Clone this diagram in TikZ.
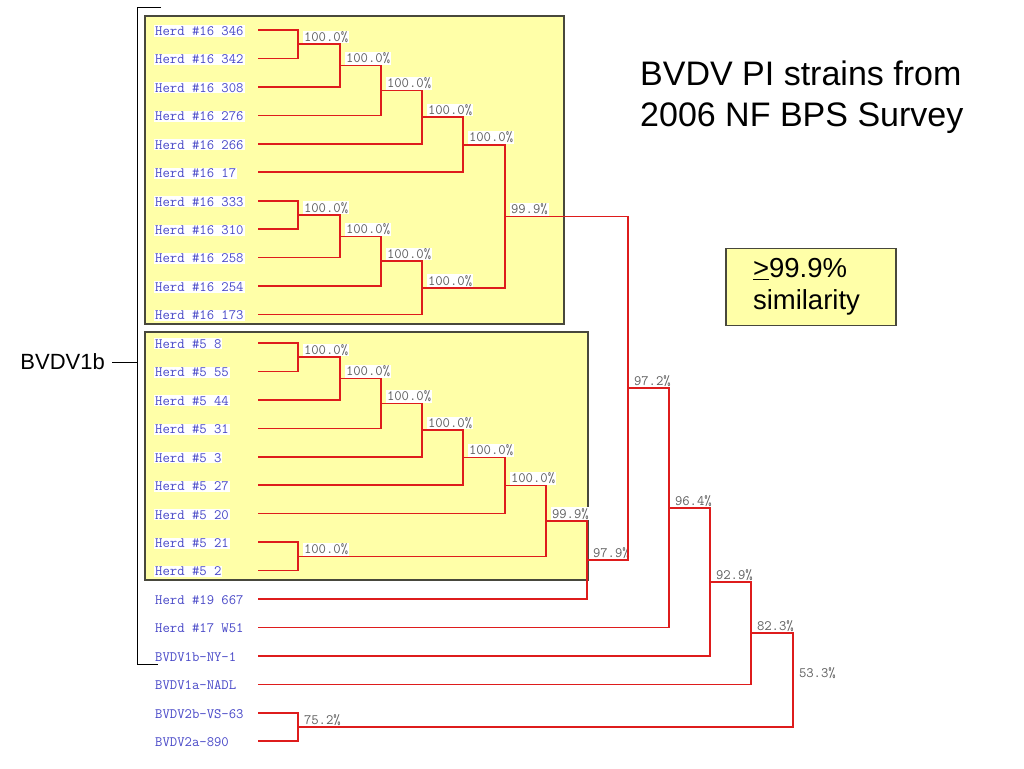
\documentclass[tikz,border=0pt]{standalone}
\usepackage{fontspec}
\setmainfont{Liberation Sans}
\usepackage{tikz}

\definecolor{linkred}{RGB}{222,28,28}
\definecolor{leafblue}{RGB}{72,72,200}
\definecolor{pctgrey}{RGB}{95,95,95}
\definecolor{boxyellow}{RGB}{255,255,168}
\definecolor{boxedge}{RGB}{72,72,60}

\begin{document}
\begin{tikzpicture}[x=1pt, y=-1pt,
    leaf/.style={anchor=west, fill=white, inner sep=1pt, text=leafblue,
        font=\fontsize{14.3}{16}\selectfont\ttfamily},
    pct/.style={anchor=south west, fill=white, inner sep=0.8pt, xshift=5pt, yshift=0.6pt,
        text=pctgrey, font=\fontsize{14.3}{16}\selectfont\ttfamily},
    link/.style={draw=linkred, line width=1.6pt},
    herdbox/.style={fill=boxyellow, draw=boxedge, line width=1.2pt},
    brk/.style={draw=black, line width=1pt}]
    \useasboundingbox (0,0) rectangle (1024,768);

    % shaded herd groups
    \draw[herdbox] (145,16) rectangle (564,324);
    \draw[herdbox] (145,332) rectangle (588,580);

    % BVDV1b bracket
    \draw[brk] (161,8) -- (137,8) -- (137,664) -- (158,664);
    \node[anchor=east, inner xsep=7pt, font=\fontsize{22}{26}\selectfont] (bvdv) at (112,362) {BVDV1b};
    \coordinate (brkmid) at (137,362);
    \draw[brk] (bvdv) -- (brkmid);

    % leaves
    \foreach \t [count=\i from 0] in {Herd \#16 346, Herd \#16 342, Herd \#16 308, Herd \#16 276,
        Herd \#16 266, Herd \#16 17, Herd \#16 333, Herd \#16 310, Herd \#16 258, Herd \#16 254,
        Herd \#16 173, Herd \#5 8, Herd \#5 55, Herd \#5 44, Herd \#5 31, Herd \#5 3, Herd \#5 27,
        Herd \#5 20, Herd \#5 21, Herd \#5 2, Herd \#19 667, Herd \#17 W51, BVDV1b-NY-1,
        BVDV1a-NADL, BVDV2b-VS-63, BVDV2a-890}{
        \node[leaf] (l\i) at (154, 31+28.45*\i) {\t};
        \coordinate (s\i) at (258, 30+28.45*\i);
    }

    % joins
    \coordinate (a1) at (298,44.2);
    \coordinate (a2) at (340,65.6);
    \coordinate (a3) at (381,90.5);
    \coordinate (a4) at (422,117.1);
    \coordinate (a5) at (463,144.7);
    \coordinate (b1) at (298,214.9);
    \coordinate (b2) at (340,236.3);
    \coordinate (b3) at (381,261.2);
    \coordinate (b4) at (422,287.8);
    \coordinate (c16) at (505,216.3);
    \coordinate (d1) at (298,357.2);
    \coordinate (d2) at (340,378.5);
    \coordinate (d3) at (381,403.4);
    \coordinate (d4) at (422,430.1);
    \coordinate (d5) at (463,457.6);
    \coordinate (d6) at (505,485.6);
    \coordinate (e1) at (298,556.3);
    \coordinate (c5) at (546,521.0);
    \coordinate (f1) at (587,560.0);
    \coordinate (f2) at (628,388.1);
    \coordinate (f3) at (669,507.8);
    \coordinate (f4) at (710,581.8);
    \coordinate (f5) at (751,633.1);
    \coordinate (g1) at (298,727.0);
    \coordinate (root) at (793,680.1);

    % similarity labels
    \foreach \j in {a1,a2,a3,a4,a5,b1,b2,b3,b4,d1,d2,d3,d4,d5,d6,e1}{
        \node[pct] (p\j) at (\j) {100.0\%};
    }
    \node[pct] (pc16) at (c16) {99.9\%};
    \node[pct] (pc5) at (c5) {99.9\%};
    \node[pct] (pf1) at (f1) {97.9\%};
    \node[pct] (pf2) at (f2) {97.2\%};
    \node[pct] (pf3) at (f3) {96.4\%};
    \node[pct] (pf4) at (f4) {92.9\%};
    \node[pct] (pf5) at (f5) {82.3\%};
    \node[pct] (pg1) at (g1) {75.2\%};
    \node[pct] (proot) at (root) {53.3\%};

    % tree
    \draw[link] (s0) -| (a1) |- (s1);
    \draw[link] (a1) -| (a2) |- (s2);
    \draw[link] (a2) -| (a3) |- (s3);
    \draw[link] (a3) -| (a4) |- (s4);
    \draw[link] (a4) -| (a5) |- (s5);
    \draw[link] (s6) -| (b1) |- (s7);
    \draw[link] (b1) -| (b2) |- (s8);
    \draw[link] (b2) -| (b3) |- (s9);
    \draw[link] (b3) -| (b4) |- (s10);
    \draw[link] (a5) -| (c16) |- (b4);
    \draw[link] (s11) -| (d1) |- (s12);
    \draw[link] (d1) -| (d2) |- (s13);
    \draw[link] (d2) -| (d3) |- (s14);
    \draw[link] (d3) -| (d4) |- (s15);
    \draw[link] (d4) -| (d5) |- (s16);
    \draw[link] (d5) -| (d6) |- (s17);
    \draw[link] (s18) -| (e1) |- (s19);
    \draw[link] (d6) -| (c5) |- (e1);
    \draw[link] (c5) -| (f1) |- (s20);
    \draw[link] (c16) -| (f2) |- (f1);
    \draw[link] (f2) -| (f3) |- (s21);
    \draw[link] (f3) -| (f4) |- (s22);
    \draw[link] (f4) -| (f5) |- (s23);
    \draw[link] (s24) -| (g1) |- (s25);
    \draw[link] (f5) -| (root) |- (g1);

    % title and key
    \node[anchor=north west, align=left, inner sep=0pt, font=\fontsize{34}{41}\selectfont] (title) at (640,61)
        {BVDV PI strains from\\2006 NF BPS Survey};
    \node[herdbox, minimum width=170pt, minimum height=77pt, inner xsep=27pt, text width=116pt,
        align=left, font=\fontsize{27.5}{32}\selectfont] (key) at (811,287)
        {\underline{>}99.9\%\\similarity};
\end{tikzpicture}
\end{document}
